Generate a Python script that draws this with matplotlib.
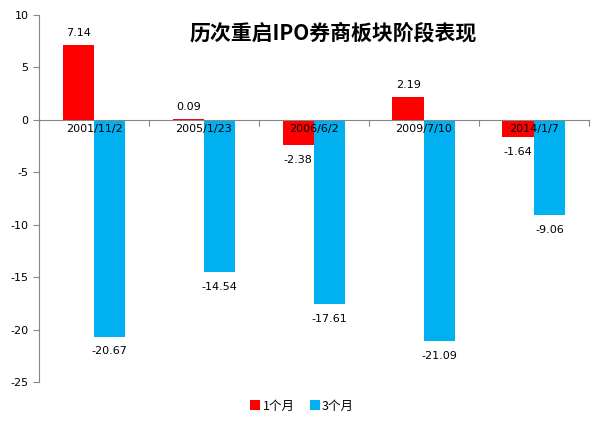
import numpy as np
import matplotlib.pyplot as plt

plt.rcParams['font.family'] = ['Noto Sans CJK SC', 'DejaVu Sans']
plt.rcParams['axes.unicode_minus'] = False

dates = ['2001/11/2', '2005/1/23', '2006/6/2', '2009/7/10', '2014/1/7']
one_month = [7.14, 0.09, -2.38, 2.19, -1.64]
three_month = [-20.67, -14.54, -17.61, -21.09, -9.06]
series_names = ['1个月', '3个月']
title = '历次重启IPO券商板块阶段表现'

red = '#FF0000'
blue = '#00B0F0'
axis_gray = '#868686'

fig = plt.figure(figsize=(6.04, 4.28), dpi=100)
ax = fig.add_axes([0.0646, 0.1075, 0.9104, 0.8575])

x = np.arange(len(dates))
w = 0.286
b1 = ax.bar(x - w / 2, one_month, w, color=red, label=series_names[0])
b2 = ax.bar(x + w / 2, three_month, w, color=blue, label=series_names[1])

ax.set_xlim(-0.5, len(dates) - 0.5)
ax.set_ylim(-25, 10)
ax.set_yticks(np.arange(-25, 11, 5))
ax.set_yticklabels([str(v) for v in range(-25, 11, 5)], family='DejaVu Sans')
ax.tick_params(axis='y', labelsize=8, length=4, color=axis_gray, width=0.8)

# category labels sit right under the zero line
ax.spines['bottom'].set_position(('data', 0))
ax.set_xticks(x)
ax.set_xticklabels(dates, fontsize=8, family='DejaVu Sans')
ax.tick_params(axis='x', length=0, pad=3)
ax.set_xticks(np.arange(-0.5, len(dates), 1), minor=True)
ax.tick_params(axis='x', which='minor', length=4, direction='out', color=axis_gray, width=0.8)

for s in ['top', 'right']:
    ax.spines[s].set_visible(False)
for s in ['left', 'bottom']:
    ax.spines[s].set_color(axis_gray)
    ax.spines[s].set_linewidth(0.8)

def label_bars(bars, vals):
    for r, v in zip(bars, vals):
        cx = r.get_x() + r.get_width() / 2
        off = 5 if v >= 0 else -7
        ax.annotate(f'{v:.2f}', (cx, v), xytext=(0, off), textcoords='offset points',
                    ha='center', va='bottom' if v >= 0 else 'top', fontsize=8,
                    family='DejaVu Sans')

label_bars(b1, one_month)
label_bars(b2, three_month)

ax.text(0.535, 0.95, title, transform=ax.transAxes, ha='center', va='center',
        fontsize=15, fontweight='bold')

fig.legend(loc='lower center', ncol=2, bbox_to_anchor=(0.5, 0.01), frameon=False,
           fontsize=9, handlelength=0.8, handleheight=0.8, handletextpad=0.2,
           columnspacing=1.2)

fig.savefig('out.png', dpi=100)
